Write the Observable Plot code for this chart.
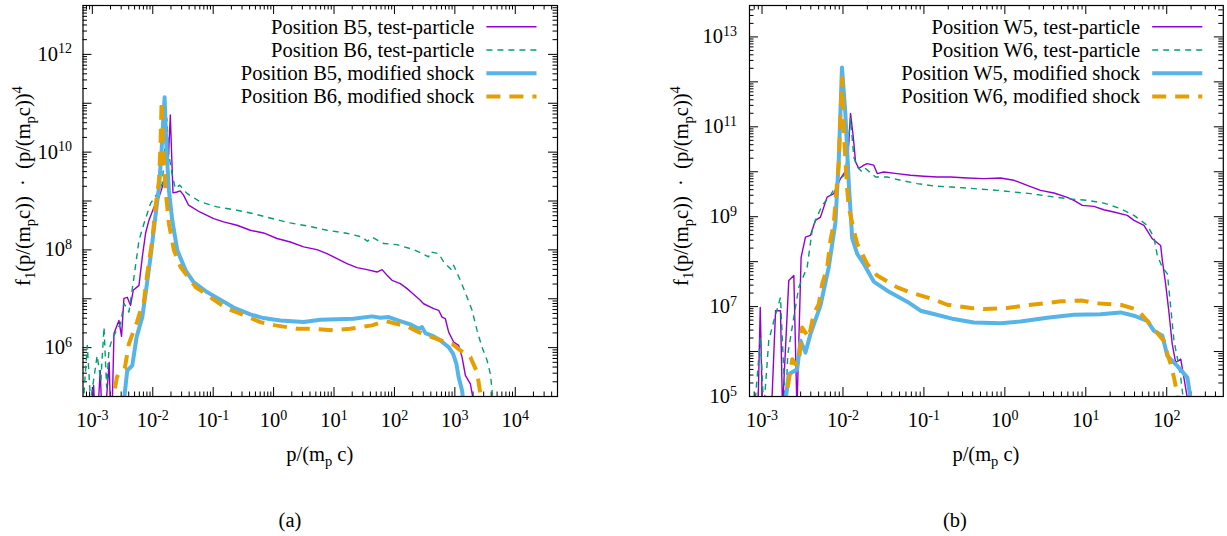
<!DOCTYPE html>
<html>
<head>
<meta charset="utf-8">
<script src="https://cdn.jsdelivr.net/npm/d3@7"></script>
<script src="https://cdn.jsdelivr.net/npm/@observablehq/plot@0.6"></script>
<style>
  html, body { margin: 0; padding: 0; background: #fff; }
  #wrap { position: relative; width: 1227px; height: 536px; background: #fff; overflow: hidden; }
  #wrap svg { position: absolute; top: 0; }
</style>
</head>
<body>
<div id="wrap"></div>
<script>
// ---------------- data: panel (a) ----------------
const pB5tp = [9.3e-4, 1.05e-3, 1.15e-3, 1.35e-3, 1.5e-3, 1.9e-3, 2.06e-3, 2.28e-3, 2.75e-3, 3.04e-3, 3.33e-3, 3.78e-3, 4.29e-3, 4.75e-3, 5.91e-3, 6.7e-3, 7.6e-3, 8.65e-3, 1.047e-2, 1.27e-2, 1.51e-2, 1.77e-2, 1.95e-2, 2.16e-2, 2.51e-2, 2.85e-2, 3.23e-2, 3.92e-2, 6.1e-2, 0.102, 0.149, 0.248, 0.411, 0.683, 1.14, 1.89, 3.14, 5.22, 7.65, 11.2, 16.4, 24.0, 35.2, 51.5, 62.4, 75.5, 91.3, 125, 162, 196, 268, 304, 446, 540, 614, 696, 790, 955, 1156, 1316, 1493, 1806, 2183];
const fB5tp = [1e4, 1.68e5, 1e4, 3.4e5, 1e4, 5.0e5, 1e4, 1.95e6, 3.6e6, 1.7e6, 1.02e7, 1.07e7, 7.3e6, 1.49e7, 1.88e7, 7.05e7, 2.19e8, 4.05e8, 7.47e8, 1.2e9, 2.32e9, 3.9e9, 5.73e10, 1.47e9, 1.53e9, 1.61e9, 1.32e9, 8.2e8, 5.89e8, 4.37e8, 3.73e8, 3.19e8, 2.52e8, 2.22e8, 1.71e8, 1.45e8, 1.15e8, 1.01e8, 8.4e7, 6.6e7, 5.24e7, 4.34e7, 3.94e7, 3.52e7, 3.94e7, 3.02e7, 2.38e7, 2.04e7, 1.61e7, 1.31e7, 9.3e6, 7.9e6, 6.3e6, 5.8e6, 4.2e6, 3.9e6, 2.08e6, 1.3e6, 1.11e6, 6.4e5, 2.7e5, 1.82e5, 5e4];

const pB6tp = [7.26e-4, 8.24e-4, 9.34e-4, 1.2e-3, 1.38e-3, 1.56e-3, 1.72e-3, 1.88e-3, 2.13e-3, 2.93e-3, 3.34e-3, 4.03e-3, 4.89e-3, 5.91e-3, 7.15e-3, 9.2e-3, 1.19e-2, 1.44e-2, 1.71e-2, 1.83e-2, 2.08e-2, 2.36e-2, 2.78e-2, 3.68e-2, 6.1e-2, 0.116, 0.248, 0.467, 0.942, 1.89, 3.8, 7.65, 15.4, 29.1, 35.6, 43, 66.2, 110, 208, 252, 368, 393, 540, 653, 899, 955, 1233, 1592, 1926, 2330, 2818, 3411, 3873, 4130, 4345];
const fB6tp = [1.15e5, 1.11e6, 8e4, 6.9e5, 2.1e5, 2.63e6, 1.55e5, 8.8e5, 1.52e6, 3.13e6, 8.05e6, 5.34e6, 2.79e7, 1.57e8, 3.46e8, 8.9e8, 1.43e9, 2.28e9, 4.9e10, 9.4e9, 3.66e9, 1.8e9, 2.11e9, 1.43e9, 9.6e8, 7.57e8, 6.47e8, 5.5e8, 4.38e8, 3.56e8, 3.05e8, 2.52e8, 2.22e8, 1.84e8, 1.5e8, 1.81e8, 1.35e8, 1.28e8, 1.01e8, 9.1e7, 7.2e7, 9.1e7, 8.4e7, 5.65e7, 3.82e7, 4.83e7, 2.38e7, 1.08e7, 5.8e6, 2.25e6, 1.02e6, 5.5e5, 2.9e5, 1.33e5, 6e4];

const pB5ms = [3.19e-3, 3.78e-3, 4.58e-3, 5.4e-3, 6.7e-3, 7.6e-3, 9.2e-3, 1.07e-2, 1.27e-2, 1.4e-2, 1.49e-2, 1.57e-2, 1.69e-2, 1.85e-2, 2.1e-2, 2.55e-2, 3.49e-2, 4.73e-2, 7.89e-2, 0.131, 0.218, 0.411, 0.683, 1.29, 3.14, 5.93, 11.2, 21.1, 42.6, 58.5, 80.2, 125, 183, 252, 286, 325, 446, 575, 790, 933, 1059, 1156, 1316, 1436];
const fB5ms = [5e4, 3.4e5, 4.3e5, 1.64e6, 4.2e6, 1.27e7, 7.2e7, 3.46e8, 1.95e9, 1.1e10, 4.5e10, 1.32e11, 1.1e10, 1.66e9, 4.05e8, 9.8e7, 3.82e7, 2.2e7, 1.37e7, 9.6e6, 6.6e6, 4.79e6, 4.02e6, 3.6e6, 3.33e6, 3.73e6, 3.79e6, 3.91e6, 4.36e6, 4.1e6, 4.22e6, 3.49e6, 2.99e6, 2.44e6, 2.63e6, 1.98e6, 1.7e6, 1.41e6, 1.02e6, 7.5e5, 4.68e5, 2.48e5, 1.33e5, 5e4];

const pB6ms = [2.13e-3, 2.28e-3, 2.55e-3, 2.79e-3, 3.09e-3, 3.44e-3, 4.03e-3, 4.53e-3, 5.47e-3, 6.28e-3, 7.05e-3, 8.11e-3, 9.81e-3, 1.11e-2, 1.27e-2, 1.35e-2, 1.4e-2, 1.49e-2, 1.63e-2, 1.85e-2, 2.24e-2, 2.88e-2, 5.11e-2, 7.4e-2, 0.169, 0.281, 0.603, 1.07, 2.44, 4.59, 9.84, 18.6, 42.6, 70.6, 162, 252, 540, 899, 1233, 1806, 2330, 2644, 2851];
const fB6ms = [5e4, 1.15e5, 2.48e5, 3.1e5, 3.4e5, 3.75e5, 1.2e6, 1.78e6, 3.33e6, 5.78e6, 7.9e6, 3.27e7, 1.57e8, 7.57e8, 2.67e9, 1.76e10, 1.11e11, 1.1e10, 1.66e9, 3.46e8, 9.8e7, 4.47e7, 1.74e7, 1.27e7, 6.27e6, 4.95e6, 3.33e6, 2.85e6, 2.44e6, 2.44e6, 2.25e6, 2.44e6, 2.85e6, 3.49e6, 2.72e6, 2.08e6, 1.45e6, 1.2e6, 8.8e5, 6.4e5, 3.15e5, 1.14e5, 5e4];

// ---------------- data: panel (b) ----------------
const pW5tp = [7.6e-4, 8.9e-4, 9.5e-4, 1.01e-3, 1.31e-3, 1.47e-3, 1.69e-3, 1.79e-3, 2.14e-3, 2.47e-3, 2.7e-3, 3.04e-3, 3.44e-3, 3.96e-3, 4.57e-3, 5.27e-3, 6.38e-3, 7.7e-3, 9.31e-3, 1.13e-2, 1.24e-2, 1.34e-2, 1.43e-2, 1.57e-2, 1.81e-2, 1.99e-2, 2.4e-2, 2.65e-2, 3.19e-2, 4.68e-2, 6.83e-2, 9.97e-2, 0.146, 0.213, 0.343, 0.55, 0.885, 1.29, 1.89, 2.76, 4.04, 5.9, 7.13, 9.06, 12.6, 16.7, 22.2, 32.6, 39.4, 52.3, 66.4, 84.1, 88.3, 96.9, 106, 117, 129, 149, 163, 180, 192];
const fW5tp = [5e4, 5e4, 9.6e6, 5e4, 5e4, 8.1e6, 8.1e6, 5e4, 3.79e7, 4.9e7, 5e4, 1.25e8, 3.5e8, 3.83e8, 8.3e8, 9.8e8, 2.74e9, 3.26e9, 7.05e9, 1.18e10, 1.99e11, 5.98e10, 1.66e10, 1.18e10, 1.4e10, 1.52e10, 1.4e10, 9.1e9, 9.9e9, 9.1e9, 8.35e9, 7.94e9, 7.66e9, 7.66e9, 7.28e9, 7.05e9, 7.28e9, 6.46e9, 5.0e9, 3.86e9, 3.37e9, 2.7e9, 2.31e9, 1.79e9, 1.7e9, 1.43e9, 1.27e9, 1.07e9, 8.3e8, 6.4e8, 3.23e8, 2.29e8, 1.06e8, 3.19e7, 8.1e6, 1.46e6, 5.7e5, 6.8e5, 2.63e5, 9e4, 5e4];

const pW6tp = [8.28e-4, 9.55e-4, 1.05e-3, 1.21e-3, 1.4e-3, 1.69e-3, 1.95e-3, 2.08e-3, 2.84e-3, 3.61e-3, 4.16e-3, 4.57e-3, 5.53e-3, 7.0e-3, 8.48e-3, 1.07e-2, 1.24e-2, 1.36e-2, 1.5e-2, 1.73e-2, 1.9e-2, 2.52e-2, 3.52e-2, 5.14e-2, 8.27e-2, 0.132, 0.213, 0.414, 0.805, 1.29, 2.08, 3.34, 5.9, 10.4, 16.7, 26.9, 39.4, 57.5, 69.5, 76.5, 88.3, 102, 112, 123, 135, 149, 160, 171];
const fW6tp = [9e4, 2.05e6, 5e4, 1.73e6, 4.84e6, 1.6e7, 5e4, 8.75e5, 2.68e7, 7.5e7, 4.94e8, 8.3e8, 1.79e9, 2.99e9, 5.46e9, 9.1e9, 1.54e11, 2.14e10, 1.28e10, 9.9e9, 1.18e10, 7.66e9, 7.66e9, 6.46e9, 5.46e9, 4.82e9, 4.58e9, 4.22e9, 3.86e9, 3.54e9, 3.26e9, 2.88e9, 2.52e9, 2.31e9, 2.01e9, 1.51e9, 1.07e9, 6.4e8, 3.51e8, 1.37e8, 7.5e7, 5.35e7, 9.6e6, 1.73e6, 7.35e5, 2.63e5, 9e4, 5e4];

const pW5ms = [1.89e-3, 2.14e-3, 2.72e-3, 2.99e-3, 3.44e-3, 3.96e-3, 5.27e-3, 6.67e-3, 8.07e-3, 8.87e-3, 9.72e-3, 1.07e-2, 1.18e-2, 1.3e-2, 1.5e-2, 1.81e-2, 2.4e-2, 3.52e-2, 6.22e-2, 9.08e-2, 0.132, 0.234, 0.414, 0.885, 1.56, 3.34, 7.13, 15.2, 26.9, 39.4, 57.5, 69.5, 88.3, 102, 135, 180, 197, 209];
const fW5ms = [5e4, 3.13e5, 4.05e5, 1.73e6, 9.5e5, 2.44e6, 1.05e7, 7.5e7, 7.46e8, 1.81e10, 2.1e12, 1.99e11, 5.46e9, 3.28e8, 1.49e8, 8.9e7, 3.6e7, 2.26e7, 1.29e7, 8.1e6, 6.83e6, 5.28e6, 4.44e6, 4.26e6, 4.68e6, 5.65e6, 6.6e6, 6.76e6, 7.43e6, 6.27e6, 4.84e6, 2.9e6, 2.24e6, 8.0e5, 4.8e5, 2.63e5, 9e4, 5e4];

const pW6ms = [1.84e-3, 2.04e-3, 2.36e-3, 2.59e-3, 2.84e-3, 3.13e-3, 3.78e-3, 4.35e-3, 5.02e-3, 5.53e-3, 6.38e-3, 7.0e-3, 7.69e-3, 8.31e-3, 8.87e-3, 9.31e-3, 9.77e-3, 1.02e-2, 1.13e-2, 1.18e-2, 1.36e-2, 1.5e-2, 1.99e-2, 2.65e-2, 4.68e-2, 6.83e-2, 0.127, 0.194, 0.377, 0.55, 1.07, 1.72, 3.03, 4.88, 9.06, 13.9, 26.9, 43.4, 57.5, 69.5, 92.3, 102, 112, 123, 135, 140];
const fW6ms = [5e4, 1.33e5, 6.77e5, 5.23e5, 5.23e5, 3.43e6, 2.05e6, 6.83e6, 1.14e7, 3.19e7, 7.5e7, 2.96e8, 6.98e8, 3.86e9, 1.52e10, 1.99e11, 1.22e12, 8.4e10, 3.86e9, 1.64e9, 4.94e8, 2.5e8, 8.9e7, 4.9e7, 2.68e7, 2.07e7, 1.48e7, 1.1e7, 9.3e6, 8.8e6, 9.3e6, 1.05e7, 1.18e7, 1.31e7, 1.36e7, 1.18e7, 1.1e7, 8.5e6, 4.84e6, 3.16e6, 1.73e6, 8.75e5, 5.23e5, 2.63e5, 1.12e5, 5e4];

// ---------------- ticks & labels ----------------
const xMajorA = [1e-3, 1e-2, 1e-1, 1, 10, 100, 1e3, 1e4];
const xMajorB = [1e-3, 1e-2, 1e-1, 1, 10, 100];
const yMajor = [1e5, 1e6, 1e7, 1e8, 1e9, 1e10, 1e11, 1e12, 1e13];
const yLabelsA = [1e6, 1e8, 1e10, 1e12];
const yLabelsB = [1e5, 1e7, 1e9, 1e11, 1e13];
const legendA = ["Position B5, test-particle", "Position B6, test-particle", "Position B5, modified shock", "Position B6, modified shock"];
const legendB = ["Position W5, test-particle", "Position W6, test-particle", "Position W5, modified shock", "Position W6, modified shock"];

// ---------------- styling ----------------
const H = 536, MT = 5, MB = 140;
const FONT = "'Liberation Serif', 'Times New Roman', serif";
const styles = [
  {color: "#9400d3", width: 1.4, dash: null},
  {color: "#009e73", width: 1.4, dash: "6,5"},
  {color: "#56b4e9", width: 4, dash: null},
  {color: "#e69f00", width: 4, dash: "14,9"}
];
const fmtPow = d => "10^" + Math.round(Math.log10(d));

function minorTicks(domain) {
  const out = [];
  for (let k = -6; k <= 15; k++) for (let m = 2; m <= 9; m++) {
    const v = m * Math.pow(10, k);
    if (v > domain[0] * 1.0001 && v < domain[1] * 0.9999) out.push(v);
  }
  return out;
}

function buildPanel(cfg) {
  const FW = cfg.width - cfg.ml - cfg.mr;
  const FH = H - MT - MB;
  const xMinor = minorTicks(cfg.xDomain), yMinor = minorTicks(cfg.yDomain);
  const lines = cfg.series.map((s, i) => Plot.line(d3.zip(s[0], s[1]), {
    x: d => d[0], y: d => d[1],
    stroke: styles[i].color, strokeWidth: styles[i].width,
    strokeDasharray: styles[i].dash, strokeLinecap: styles[i].dash ? "butt" : "round",
    strokeLinejoin: "round", clip: true
  }));
  const marks = [
    Plot.tickX(cfg.xMajor, {x: d => d, insetTop: FH - 9, stroke: "#000"}),
    Plot.tickX(cfg.xMajor, {x: d => d, insetBottom: FH - 9, stroke: "#000"}),
    Plot.tickX(xMinor, {x: d => d, insetTop: FH - 4.5, stroke: "#000"}),
    Plot.tickX(xMinor, {x: d => d, insetBottom: FH - 4.5, stroke: "#000"}),
    Plot.tickY(yMajor, {y: d => d, insetRight: FW - 9, stroke: "#000"}),
    Plot.tickY(yMajor, {y: d => d, insetLeft: FW - 9, stroke: "#000"}),
    Plot.tickY(yMinor, {y: d => d, insetRight: FW - 4.5, stroke: "#000"}),
    Plot.tickY(yMinor, {y: d => d, insetLeft: FW - 4.5, stroke: "#000"}),
    ...lines,
    Plot.axisX(cfg.xMajor, {tickSize: 0, tickPadding: 16, tickFormat: fmtPow, label: null}),
    Plot.axisY(cfg.yLabels, {tickSize: 0, tickPadding: cfg.yPad, tickFormat: fmtPow, label: null}),
    Plot.frame({stroke: "#000", strokeWidth: 1.2})
  ];
  const svgNode = Plot.plot({
    width: cfg.width, height: H,
    marginLeft: cfg.ml, marginRight: cfg.mr, marginTop: MT, marginBottom: MB,
    x: {type: "log", domain: cfg.xDomain},
    y: {type: "log", domain: cfg.yDomain},
    style: {fontFamily: FONT, fontSize: "20.5px", color: "#000", background: "#fff", overflow: "visible"},
    marks
  });
  svgNode.style.left = cfg.left + "px";
  svgNode.setAttribute("font-family", FONT);
  const svg = d3.select(svgNode);

  // superscript exponents in tick labels
  svg.selectAll('[aria-label="x-axis tick label"] text, [aria-label="y-axis tick label"] text').each(function () {
    const m = /^10\^(-?\d+)$/.exec(this.textContent.trim());
    if (!m) return;
    const t = d3.select(this);
    t.text(null);
    t.append("tspan").text("10");
    t.append("tspan").attr("dy", -7.5).attr("font-size", 14).text(m[1]);
  });

  const frameRight = cfg.width - cfg.mr;
  const g = svg.append("g").attr("font-family", FONT).attr("font-size", 20.5).attr("fill", "#000");

  // legend
  cfg.legend.forEach((label, i) => {
    const yb = 33.8 + i * 23.2;
    g.append("text").attr("x", frameRight - 82.7).attr("y", yb).attr("text-anchor", "end").text(label);
    g.append("line")
      .attr("x1", frameRight - 70.6).attr("x2", frameRight - 20.5)
      .attr("y1", yb - 7).attr("y2", yb - 7)
      .attr("stroke", styles[i].color).attr("stroke-width", styles[i].width)
      .attr("stroke-dasharray", styles[i].dash)
      .attr("stroke-linecap", "butt");
  });

  // x title
  const cx = (cfg.ml + frameRight) / 2;
  const xt = g.append("text").attr("x", cx).attr("y", 461).attr("text-anchor", "middle");
  xt.append("tspan").text("p/(m");
  xt.append("tspan").attr("dy", 5).attr("font-size", 14.5).text("p");
  xt.append("tspan").attr("dy", -5).text(" c)");

  // y title (rotated)
  const yt = g.append("text").attr("transform", `translate(${cfg.yTitleX},186) rotate(-90)`).attr("text-anchor", "middle");
  yt.append("tspan").text("f");
  yt.append("tspan").attr("dy", 5).attr("font-size", 14.5).text("1");
  yt.append("tspan").attr("dy", -5).text("(p/(m");
  yt.append("tspan").attr("dy", 5).attr("font-size", 14.5).text("p");
  yt.append("tspan").attr("dy", -5).text("c))\u00a0\u00a0\u00b7\u00a0\u00a0(p/(m");
  yt.append("tspan").attr("dy", 5).attr("font-size", 14.5).text("p");
  yt.append("tspan").attr("dy", -5).text("c))");
  yt.append("tspan").attr("dy", -8).attr("font-size", 14.5).text("4");

  // caption
  g.append("text").attr("x", cfg.capX).attr("y", 527).attr("text-anchor", "middle").text(cfg.caption);

  document.getElementById("wrap").appendChild(svgNode);
}

buildPanel({
  left: 0, width: 613, ml: 82.5, mr: 56,
  xDomain: [7e-4, 5e4], yDomain: [1e5, 1e13],
  xMajor: xMajorA, yLabels: yLabelsA, yPad: 11,
  series: [[pB5tp, fB5tp], [pB6tp, fB6tp], [pB5ms, fB5ms], [pB6ms, fB6ms]],
  legend: legendA, yTitleX: 30, capX: 290, caption: "(a)"
});
buildPanel({
  left: 613, width: 614, ml: 136, mr: 4.2,
  xDomain: [7e-4, 500], yDomain: [1e5, 5e13],
  xMajor: xMajorB, yLabels: yLabelsB, yPad: 12.5,
  series: [[pW5tp, fW5tp], [pW6tp, fW6tp], [pW5ms, fW5ms], [pW6ms, fW6ms]],
  legend: legendB, yTitleX: 75, capX: 342, caption: "(b)"
});
</script>
</body>
</html>
